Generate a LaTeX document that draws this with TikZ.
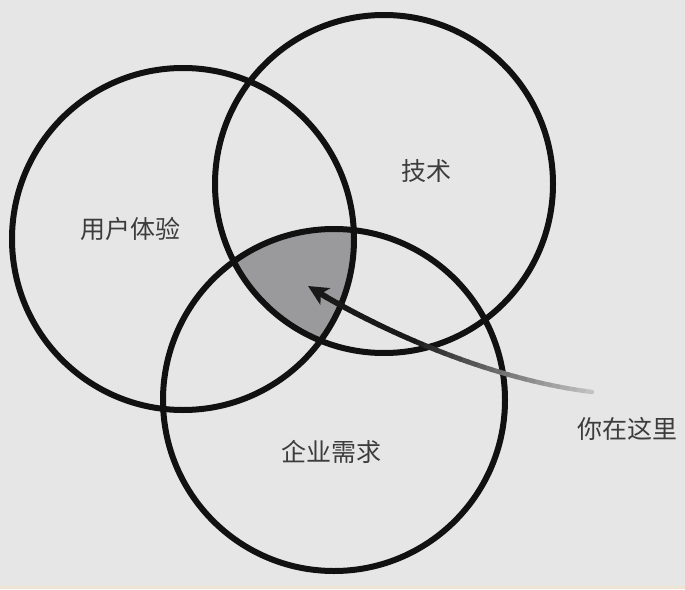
\documentclass[tikz,border=0pt]{standalone}
\usepackage{fontspec}
\newfontfamily\cjk{Noto Sans CJK SC}
\usetikzlibrary{arrows.meta}
\definecolor{bgcol}{HTML}{E6E6E6}
\definecolor{stripcol}{HTML}{EEE4D4}
\definecolor{ringcol}{HTML}{111111}
\definecolor{coreshade}{HTML}{9A9A9D}
\definecolor{labelcol}{HTML}{3C3C3C}
\tikzset{
  ring/.style={draw=ringcol, line width=6pt},
  label/.style={font=\cjk\fontsize{25}{25}\selectfont, text=labelcol, inner sep=0pt},
}
\begin{document}
\begin{tikzpicture}[x=1pt,y=-1pt]
  % background
  \fill[bgcol] (0,0) rectangle (685,589);
  \fill[stripcol] (0,586) rectangle (685,589);
  \useasboundingbox (0,0) rectangle (685,589);

  % circle centres
  \coordinate (ux) at (183,239);
  \coordinate (tech) at (384,184);
  \coordinate (biz) at (334,400);

  % shaded common region
  \begin{scope}
    \clip (ux) circle[radius=171pt];
    \clip (tech) circle[radius=169pt];
    \fill[coreshade] (biz) circle[radius=171pt];
  \end{scope}

  % rings
  \draw[ring] (ux) circle[radius=171pt];
  \draw[ring] (tech) circle[radius=169pt];
  \draw[ring] (biz) circle[radius=171pt];

  % labels
  \node[label] (uxlabel) at (130,229) {用户体验};
  \node[label] (techlabel) at (426,171) {技术};
  \node[label] (bizlabel) at (331,452) {企业需求};
  \node[label] (here) at (627,429) {你在这里};

  % arrow with fading tail
  \coordinate (tail) at (592,392);
  \coordinate (tip) at (308,286);
  \foreach \i in {0,...,35}{
    \pgfmathsetmacro\ta{\i/40}
    \pgfmathsetmacro\tb{(\i+1)/40}
    \pgfmathsetmacro\pc{min(90,24+66*\ta/0.55)}
    \pgfmathsetmacro\lw{4.4+1.4*\ta}
    \path (tail) .. controls (480,378) and (365,322) .. (tip)
      coordinate[pos=\ta] (sa) coordinate[pos=\tb] (sb);
    \draw[line width=\lw pt, line cap=round, draw=black!\pc] (sa) -- (sb);
  }
  \path (tail) .. controls (480,378) and (365,322) .. (tip)
    coordinate[pos=0.9] (shaftend);
  \draw[line width=5.8pt, draw=black!90, -{Stealth[length=20pt,width=19pt,inset=5pt]}] (shaftend) -- (tip);
\end{tikzpicture}
\end{document}
